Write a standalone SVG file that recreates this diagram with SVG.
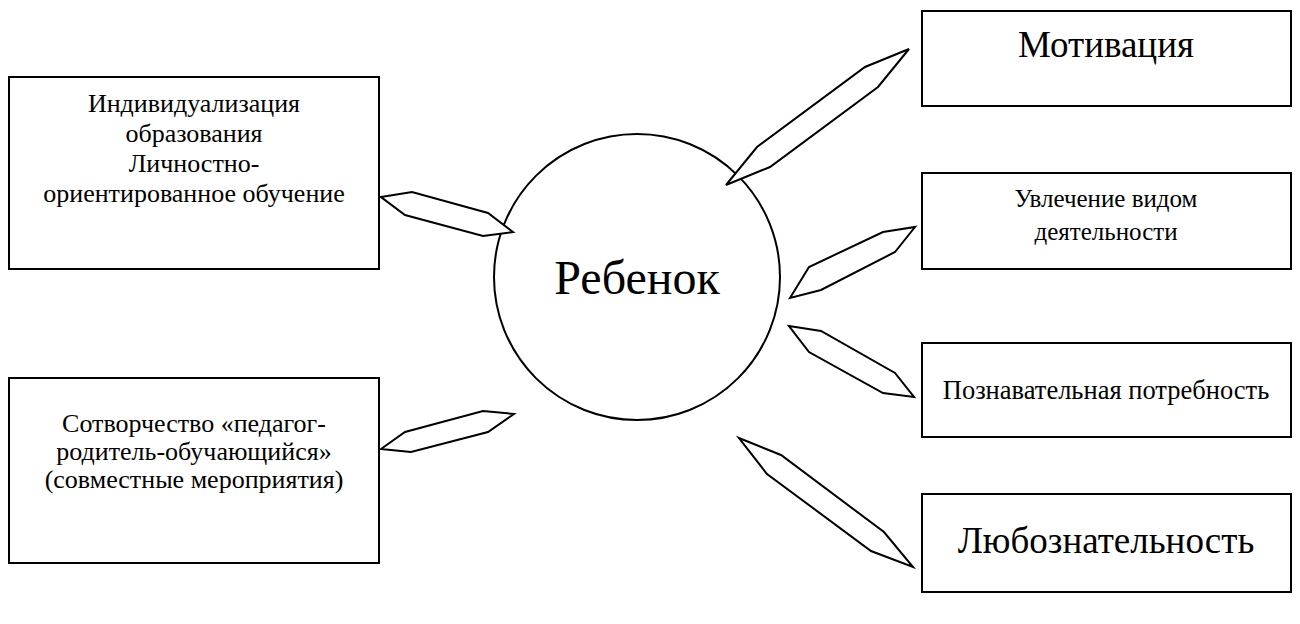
<svg xmlns="http://www.w3.org/2000/svg" width="1300" height="624" viewBox="0 0 1300 624">
<style>
.box{fill:#fff;stroke:#000;stroke-width:2}
.con{fill:#fff;stroke:#000;stroke-width:2;stroke-linejoin:miter}
.t{font-family:'Liberation Serif','DejaVu Serif',serif;fill:#000;text-anchor:middle}
.s{font-size:25px}
.p{font-size:26.5px}
.m{font-size:26px}
.l{font-size:37px}
.xl{font-size:48px}
</style>
<rect width="1300" height="624" fill="#fff"/>
<g id="child">
<circle cx="637" cy="277" r="143" fill="#fff" stroke="#000" stroke-width="2"/>
<text class="t xl" x="637" y="294">Ребенок</text>
</g>
<g id="connectors">
<polygon class="con" points="381,197 412,192 488,213 513,232 483,236 405,215"/>
<polygon class="con" points="381,449 405,432 483,411 514,414 488,432 411,452"/>
<polygon class="con" points="726,185 757,147 865,67 909,49 878,87 770,167"/>
<polygon class="con" points="790,298 809,267 883,232 915,227 895,252 821,290"/>
<polygon class="con" points="789,326 821,331 895,373 914,397 883,393 809,352"/>
<polygon class="con" points="739,438 781,455 884,532 913,567 871,551 767,474"/>
</g>
<g id="individualization">
<rect class="box" x="9" y="77" width="370" height="192"/>
<text class="t m" x="194" y="112">Индивидуализация</text>
<text class="t m" x="194" y="142">образования</text>
<text class="t m" x="194" y="172">Личностно-</text>
<text class="t m" x="194" y="202">ориентированное обучение</text>
</g>
<g id="cocreation">
<rect class="box" x="9" y="378" width="370" height="185"/>
<text class="t m" x="194" y="432">Сотворчество «педагог-</text>
<text class="t m" x="194" y="460">родитель-обучающийся»</text>
<text class="t m" x="194" y="488">(совместные мероприятия)</text>
</g>
<g id="motivation">
<rect class="box" x="922" y="11" width="369" height="95"/>
<text class="t l" x="1106" y="57">Мотивация</text>
</g>
<g id="hobby">
<rect class="box" x="922" y="173" width="369" height="96"/>
<text class="t s" x="1106" y="207">Увлечение видом</text>
<text class="t s" x="1106" y="240">деятельности</text>
</g>
<g id="cognitive">
<rect class="box" x="922" y="343" width="369" height="94"/>
<text class="t p" x="1106" y="399">Познавательная потребность</text>
</g>
<g id="curiosity">
<rect class="box" x="922" y="494" width="369" height="98"/>
<text class="t l" x="1106" y="553">Любознательность</text>
</g>
</svg>
